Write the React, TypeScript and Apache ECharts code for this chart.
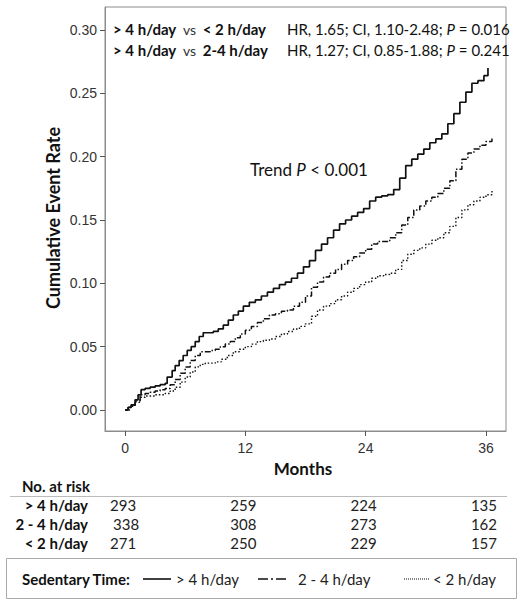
import React, { useEffect, useRef } from "react";
import * as echarts from "echarts";

// ---- data ----
const MONTHS_GT4 = [0, 0.3, 0.6, 1.0, 1.3, 1.6, 2.0, 2.5, 3.0, 3.5, 4.0, 4.2, 4.7, 5.0, 5.4, 5.8, 6.2, 6.6, 7.0, 7.4, 7.8, 8.3, 8.8, 9.3, 9.8, 10.3, 10.8, 11.3, 11.8, 12.4, 13.0, 13.6, 14.2, 14.8, 15.4, 16.0, 16.6, 17.2, 17.8, 18.4, 19.0, 19.6, 20.2, 20.8, 21.4, 22.0, 22.6, 23.2, 23.8, 24.4, 25.0, 25.6, 26.2, 26.8, 27.4, 28.0, 28.6, 29.2, 29.8, 30.4, 31.0, 31.6, 32.2, 32.8, 33.4, 34.0, 34.6, 35.2, 35.8, 36.2];
const RATE_GT4 = [0, 0.002, 0.004, 0.008, 0.012, 0.016, 0.017, 0.018, 0.019, 0.020, 0.021, 0.026, 0.031, 0.035, 0.039, 0.043, 0.047, 0.050, 0.054, 0.058, 0.061, 0.061, 0.062, 0.064, 0.067, 0.071, 0.075, 0.078, 0.082, 0.085, 0.087, 0.090, 0.093, 0.096, 0.099, 0.101, 0.104, 0.108, 0.113, 0.118, 0.126, 0.131, 0.136, 0.142, 0.147, 0.150, 0.153, 0.156, 0.159, 0.165, 0.168, 0.169, 0.170, 0.174, 0.183, 0.193, 0.198, 0.202, 0.206, 0.211, 0.214, 0.218, 0.226, 0.234, 0.243, 0.251, 0.258, 0.260, 0.264, 0.270];

const MONTHS_2TO4 = [0, 0.3, 0.6, 1.0, 1.5, 2.0, 2.5, 3.0, 3.5, 4.0, 4.5, 5.0, 5.5, 6.0, 6.5, 7.0, 7.5, 8.0, 8.5, 9.0, 9.5, 10.0, 10.5, 11.0, 11.5, 12.0, 12.6, 13.2, 13.8, 14.4, 15.0, 15.6, 16.2, 16.8, 17.4, 18.0, 18.6, 19.2, 19.8, 20.4, 21.0, 21.6, 22.2, 22.8, 23.4, 24.0, 24.6, 25.2, 25.8, 26.4, 27.0, 27.6, 28.2, 28.8, 29.4, 30.0, 30.6, 31.2, 31.8, 32.4, 33.0, 33.6, 34.2, 34.8, 35.4, 36.0, 36.6];
const RATE_2TO4 = [0, 0.002, 0.004, 0.007, 0.012, 0.013, 0.014, 0.015, 0.016, 0.017, 0.020, 0.024, 0.029, 0.034, 0.039, 0.043, 0.046, 0.046, 0.047, 0.048, 0.050, 0.052, 0.054, 0.057, 0.060, 0.063, 0.066, 0.069, 0.072, 0.075, 0.076, 0.078, 0.079, 0.082, 0.085, 0.090, 0.097, 0.101, 0.105, 0.108, 0.111, 0.115, 0.118, 0.121, 0.124, 0.127, 0.131, 0.133, 0.133, 0.136, 0.140, 0.146, 0.152, 0.158, 0.161, 0.165, 0.168, 0.171, 0.175, 0.181, 0.190, 0.198, 0.203, 0.206, 0.209, 0.212, 0.215];

const MONTHS_LT2 = [0, 0.5, 1.0, 1.5, 2.0, 2.5, 3.0, 3.5, 4.0, 4.5, 5.0, 5.5, 6.0, 6.5, 7.0, 7.5, 8.0, 8.5, 9.0, 9.6, 10.2, 10.8, 11.4, 12.0, 12.6, 13.2, 13.8, 14.4, 15.0, 15.6, 16.2, 16.8, 17.4, 18.0, 18.6, 19.2, 19.8, 20.4, 21.0, 21.6, 22.2, 22.8, 23.4, 24.0, 24.6, 25.2, 25.8, 26.4, 27.0, 27.6, 28.2, 28.8, 29.4, 30.0, 30.6, 31.2, 31.8, 32.4, 33.0, 33.6, 34.2, 34.8, 35.4, 36.0, 36.6];
const RATE_LT2 = [0, 0.003, 0.006, 0.010, 0.011, 0.011, 0.012, 0.012, 0.013, 0.015, 0.018, 0.022, 0.026, 0.030, 0.034, 0.036, 0.037, 0.037, 0.038, 0.040, 0.043, 0.046, 0.048, 0.050, 0.052, 0.054, 0.055, 0.056, 0.058, 0.060, 0.062, 0.064, 0.066, 0.068, 0.074, 0.079, 0.082, 0.084, 0.087, 0.090, 0.093, 0.096, 0.099, 0.101, 0.104, 0.106, 0.107, 0.108, 0.111, 0.118, 0.123, 0.126, 0.128, 0.131, 0.134, 0.136, 0.140, 0.145, 0.152, 0.158, 0.162, 0.165, 0.168, 0.170, 0.173];

const X_TICKS = [0, 12, 24, 36];
const Y_TICKS = [0, 0.05, 0.1, 0.15, 0.2, 0.25, 0.3];

const GROUP_LABELS = ["> 4 h/day", "2 - 4 h/day", "< 2 h/day"];
const RISK_TIMES = [0, 12, 24, 36];
const RISK_GT4 = [293, 259, 224, 135];
const RISK_2TO4 = [338, 308, 273, 162];
const RISK_LT2 = [271, 250, 229, 157];

const HR_LINES = [
  { a: "> 4 h/day", b: "< 2 h/day", hr: "1.65", ci: "1.10-2.48", p: "0.016" },
  { a: "> 4 h/day", b: "2-4 h/day", hr: "1.27", ci: "0.85-1.88", p: "0.241" },
];
const TREND_P = "< 0.001";

// ---- layout ----
const W = 527;
const H = 605;
const GL = 105, GT = 7, GR = 506, GB = 431;
const XMIN = -2, XMAX = 38;
const CAL = "Lato, 'Open Sans', sans-serif";
const ARIAL = "'Liberation Sans', Arial, sans-serif";

const xPix = (m: number) => GL + ((m - XMIN) / (XMAX - XMIN)) * (GR - GL);

export default function App() {
  const ref = useRef<HTMLDivElement>(null);
  useEffect(() => {
    if (!ref.current) return;
    const chart = echarts.init(ref.current, undefined, { renderer: "svg" });
    const zip = (ms: number[], vs: number[]) => ms.map((m, i) => [m, vs[i]]);

    const graphic: any[] = [];
    // y axis title
    graphic.push({
      type: "text", x: 53, y: 218, rotation: Math.PI / 2,
      style: { text: "Cumulative Event Rate", font: `bold 18px ${CAL}`, fill: "#111", align: "center", verticalAlign: "middle" },
    });
    // x axis title
    graphic.push({
      type: "text", x: 303, y: 468,
      style: { text: "Months", font: `bold 17px ${CAL}`, fill: "#111", align: "center", verticalAlign: "middle" },
    });
    // HR annotation lines
    HR_LINES.forEach((h, i) => {
      const y = 29 + i * 21;
      graphic.push({
        type: "text", x: 113, y,
        style: {
          text: `{b|${h.a}}  {r|vs}  {b|${h.b}}`, verticalAlign: "middle", fill: "#111",
          rich: {
            b: { font: `bold 15px ${CAL}`, fill: "#111" },
            r: { font: `14px ${CAL}`, fill: "#333" },
          },
        },
      });
      graphic.push({
        type: "text", x: 287, y,
        style: {
          text: `{r|HR, ${h.hr}; CI, ${h.ci}; }{i|P}{r| = ${h.p}}`, verticalAlign: "middle", fill: "#111",
          rich: {
            r: { font: `15px ${CAL}`, fill: "#111" },
            i: { font: `italic 15px ${CAL}`, fill: "#111" },
          },
        },
      });
    });
    // trend
    graphic.push({
      type: "text", x: 250, y: 169,
      style: {
        text: `{r|Trend }{i|P}{r| ${TREND_P}}`, verticalAlign: "middle",
        rich: {
          r: { font: `17px ${CAL}`, fill: "#111" },
          i: { font: `italic 17px ${CAL}`, fill: "#111" },
        },
      },
    });
    // risk table
    graphic.push({
      type: "text", x: 22, y: 486,
      style: { text: "No. at risk", font: `bold 15px ${CAL}`, fill: "#111", verticalAlign: "middle" },
    });
    graphic.push({
      type: "line", shape: { x1: 10, y1: 496.5, x2: 507, y2: 496.5 },
      style: { stroke: "#bbb", lineWidth: 1 },
    });
    const riskRows = [RISK_GT4, RISK_2TO4, RISK_LT2];
    const rowY = [505, 524, 543];
    riskRows.forEach((row, r) => {
      graphic.push({
        type: "text", x: 88, y: rowY[r],
        style: { text: GROUP_LABELS[r], font: `bold 15px ${CAL}`, fill: "#111", align: "right", verticalAlign: "middle" },
      });
      row.forEach((v, c) => {
        graphic.push({
          type: "text", x: xPix(RISK_TIMES[c]) - 2 + (r === 1 && c === 0 ? 3 : 0), y: rowY[r],
          style: { text: String(v), font: `15px ${CAL}`, fill: "#222", align: "center", verticalAlign: "middle" },
        });
      });
    });
    // legend box
    graphic.push({
      type: "rect", shape: { x: 6.5, y: 558.5, width: 510, height: 40 },
      style: { fill: "none", stroke: "#aaa", lineWidth: 1 },
    });
    const LY = 579;
    graphic.push({
      type: "text", x: 22, y: LY,
      style: { text: "Sedentary Time:", font: `bold 15px ${CAL}`, fill: "#111", verticalAlign: "middle" },
    });
    const legendItems = [
      { x1: 143, x2: 171, tx: 176, dash: undefined as any, w: 1.6 },
      { x1: 258, x2: 288, tx: 298, dash: [10, 3, 2, 3], w: 1.6 },
      { x1: 404, x2: 429, tx: 433, dash: [1, 1], w: 1 },
    ];
    legendItems.forEach((it, i) => {
      graphic.push({
        type: "line", shape: { x1: it.x1, y1: LY, x2: it.x2, y2: LY },
        style: { stroke: "#111", lineWidth: it.w, lineDash: it.dash },
      });
      graphic.push({
        type: "text", x: it.tx, y: LY,
        style: { text: i === 1 ? "2 - 4 h/day" : GROUP_LABELS[i], font: `15px ${CAL}`, fill: "#222", verticalAlign: "middle" },
      });
    });

    chart.setOption({
      animation: false,
      backgroundColor: "#fff",
      grid: {
        left: GL, top: GT, width: GR - GL, height: GB - GT,
        show: true, borderColor: "#8c8c8c", borderWidth: 1, backgroundColor: "transparent",
      },
      xAxis: {
        type: "value", min: XMIN, max: XMAX,
        axisLine: { show: true, onZero: false, lineStyle: { color: "#8c8c8c", width: 1 } },
        axisTick: { show: true, customValues: X_TICKS, length: 5, inside: false, lineStyle: { color: "#555" } },
        axisLabel: { customValues: X_TICKS, margin: 10, color: "#333", fontFamily: ARIAL, fontSize: 14 },
        splitLine: { show: false },
      },
      yAxis: {
        type: "value", min: -0.0166, max: 0.3182,
        axisLine: { show: true, onZero: false, lineStyle: { color: "#8c8c8c", width: 1 } },
        axisTick: { show: true, customValues: Y_TICKS, length: 5, lineStyle: { color: "#555" } },
        axisLabel: {
          customValues: Y_TICKS, margin: 8, color: "#333", fontFamily: ARIAL, fontSize: 14,
          formatter: (v: number) => v.toFixed(2),
        },
        splitLine: { show: false },
      },
      series: [
        {
          type: "line", step: "end", showSymbol: false, data: zip(MONTHS_GT4, RATE_GT4),
          lineStyle: { color: "#111", width: 1.7 },
        },
        {
          type: "line", step: "end", showSymbol: false, data: zip(MONTHS_2TO4, RATE_2TO4),
          lineStyle: { color: "#111", width: 1.5, type: [6, 2, 1.5, 2] },
        },
        {
          type: "line", step: "end", showSymbol: false, data: zip(MONTHS_LT2, RATE_LT2),
          lineStyle: { color: "#111", width: 1.4, type: [1.5, 2] },
        },
      ],
      graphic,
    });
    return () => chart.dispose();
  }, []);
  return <div ref={ref} style={{ position: "absolute", left: 0, top: 0, width: W, height: H }} />;
}
